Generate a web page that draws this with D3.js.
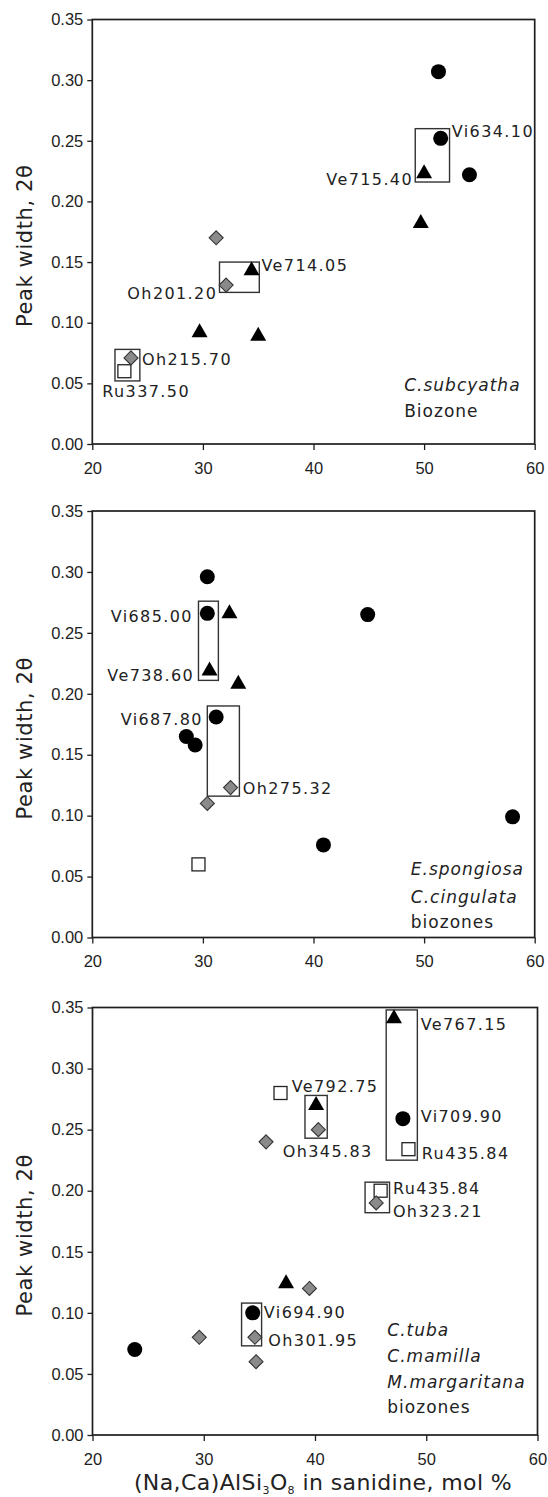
<!DOCTYPE html>
<html>
<head>
<meta charset="utf-8">
<script src="https://cdn.jsdelivr.net/npm/d3@7"></script>
<style>
  html, body { margin: 0; padding: 0; background: #fff; }
  svg { display: block; }
</style>
</head>
<body>
<svg id="chart" width="548" height="1497"></svg>
<script>
// ---------- DATA ----------
const xTicks = [20, 30, 40, 50, 60];
const yTicks = [0, 0.05, 0.10, 0.15, 0.20, 0.25, 0.30, 0.35];

// Panel 1 — C.subcyatha Biozone
const p1Circles   = [[51.3, 0.307], [51.5, 0.252], [54.1, 0.222]];
const p1Triangles = [[50.0, 0.224], [49.7, 0.183], [34.4, 0.144], [29.7, 0.093], [35.0, 0.090]];
const p1Diamonds  = [[31.2, 0.170], [32.1, 0.131], [23.5, 0.071]];
const p1Squares   = [[22.9, 0.060]];
const p1Boxes     = [[49.2, 52.3, 0.216, 0.260], [31.5, 35.1, 0.125, 0.150], [22.05, 24.3, 0.052, 0.078]];
const p1Labels    = [["Vi634.10", 52.5, 0.258, "start"], ["Ve715.40", 49.0, 0.218, "end"],
                     ["Ve714.05", 35.3, 0.147, "start"], ["Oh201.20", 31.3, 0.124, "end"],
                     ["Oh215.70", 24.5, 0.070, "start"], ["Ru337.50", 20.9, 0.043, "start"]];
const p1Zone      = [["C.subcyatha", true, 48.2, 0.049], ["Biozone", false, 48.2, 0.0275]];

// Panel 2 — E.spongiosa / C.cingulata biozones
const p2Circles   = [[30.4, 0.296], [30.4, 0.266], [44.9, 0.265], [31.2, 0.181], [28.5, 0.165],
                     [29.3, 0.158], [40.9, 0.076], [58.0, 0.099]];
const p2Triangles = [[32.4, 0.267], [30.6, 0.220], [33.2, 0.209]];
const p2Diamonds  = [[32.5, 0.123], [30.4, 0.110]];
const p2Squares   = [[29.6, 0.060]];
const p2Boxes     = [[29.6, 31.4, 0.211, 0.276], [30.4, 33.3, 0.116, 0.190]];
const p2Labels    = [["Vi685.00", 29.1, 0.2635, "end"], ["Ve738.60", 29.2, 0.2154, "end"],
                     ["Vi687.80", 30.0, 0.1787, "end"], ["Oh275.32", 33.6, 0.1219, "start"]];
const p2Zone      = [["E.spongiosa", true, 48.8, 0.056], ["C.cingulata", true, 48.8, 0.0336],
                     ["biozones", false, 48.8, 0.0128]];

// Panel 3 — C.tuba / C.mamilla / M.margaritana biozones
const p3Circles   = [[47.9, 0.259], [34.4, 0.100], [23.8, 0.070]];
const p3Triangles = [[47.1, 0.342], [40.1, 0.271], [37.4, 0.125]];
const p3Diamonds  = [[40.3, 0.250], [35.6, 0.240], [45.5, 0.190], [39.5, 0.120], [34.6, 0.080],
                     [29.6, 0.080], [34.7, 0.060]];
const p3Squares   = [[36.9, 0.280], [48.4, 0.234], [45.9, 0.200]];
const p3Boxes     = [[46.4, 49.2, 0.225, 0.348], [39.1, 41.1, 0.243, 0.278],
                     [44.5, 46.7, 0.182, 0.207], [33.4, 35.2, 0.073, 0.108]];
const p3Labels    = [["Ve767.15", 49.5, 0.336, "start"], ["Vi709.90", 49.5, 0.2607, "start"],
                     ["Ru435.84", 49.6, 0.2305, "start"], ["Ve792.75", 37.9, 0.2854, "start"],
                     ["Oh345.83", 37.1, 0.2317, "start"], ["Ru435.84", 47.0, 0.202, "start"],
                     ["Oh323.21", 47.0, 0.1828, "start"], ["Vi694.90", 35.4, 0.100, "start"],
                     ["Oh301.95", 35.8, 0.0773, "start"]];
const p3Zone      = [["C.tuba", true, 46.5, 0.086], ["C.mamilla", true, 46.5, 0.0648],
                     ["M.margaritana", true, 46.5, 0.0437], ["biozones", false, 46.5, 0.0232]];

const yTitle = "Peak width, 2\u03B8";

// ---------- LAYOUT ----------
const panels = [
  { box: { left: 92.3, right: 534.7, top: 19.5, bottom: 444 },
    circles: p1Circles, triangles: p1Triangles, diamonds: p1Diamonds, squares: p1Squares,
    boxes: p1Boxes, labels: p1Labels, zone: p1Zone },
  { box: { left: 92.3, right: 534.7, top: 511, bottom: 937.5 },
    circles: p2Circles, triangles: p2Triangles, diamonds: p2Diamonds, squares: p2Squares,
    boxes: p2Boxes, labels: p2Labels, zone: p2Zone },
  { box: { left: 92.5, right: 537.5, top: 1007.5, bottom: 1435 },
    circles: p3Circles, triangles: p3Triangles, diamonds: p3Diamonds, squares: p3Squares,
    boxes: p3Boxes, labels: p3Labels, zone: p3Zone },
];

const svg = d3.select("#chart");
const textFont = "'DejaVu Sans', sans-serif";
const tickFont = "'Liberation Sans', Arial, sans-serif";
const ink = "#1e1e1e";

panels.forEach((p) => {
  const b = p.box;
  const x = d3.scaleLinear().domain([20, 60]).range([b.left, b.right]);
  const y = d3.scaleLinear().domain([0, 0.35]).range([b.bottom, b.top]);
  const g = svg.append("g");

  // axes
  const yAxis = d3.axisLeft(y).tickValues(yTicks).tickFormat(d3.format(".2f"))
    .tickSizeInner(5).tickSizeOuter(0).tickPadding(4);
  const xAxis = d3.axisBottom(x).tickValues(xTicks).tickFormat(d3.format("d"))
    .tickSizeInner(6).tickSizeOuter(0).tickPadding(12);

  const ya = g.append("g").attr("transform", `translate(${b.left},0)`).call(yAxis);
  const xa = g.append("g").attr("transform", `translate(0,${b.bottom})`).call(xAxis);
  [ya, xa].forEach(a => {
    a.select(".domain").remove();
    a.selectAll(".tick line").attr("stroke", ink).attr("stroke-width", 1.3);
    a.selectAll(".tick text").attr("fill", ink).style("font-family", tickFont).style("font-size", "16.5px");
  });

  // frame
  g.append("rect")
    .attr("x", b.left).attr("y", b.top)
    .attr("width", b.right - b.left).attr("height", b.bottom - b.top)
    .attr("fill", "none").attr("stroke", ink).attr("stroke-width", 1.7);

  // y title
  g.append("text")
    .attr("transform", `translate(32,${(b.top + b.bottom) / 2 + 14}) rotate(-90)`)
    .attr("text-anchor", "middle")
    .style("font-family", textFont).style("font-size", "21px").style("letter-spacing", "0.6px")
    .attr("fill", "#222")
    .text(yTitle);

  // grouping boxes
  g.selectAll(".grp").data(p.boxes).enter().append("rect")
    .attr("x", d => x(d[0])).attr("y", d => y(d[3]))
    .attr("width", d => x(d[1]) - x(d[0])).attr("height", d => y(d[2]) - y(d[3]))
    .attr("fill", "none").attr("stroke", "#333").attr("stroke-width", 1.4);

  // markers
  g.selectAll(".sq").data(p.squares).enter().append("rect")
    .attr("x", d => x(d[0]) - 6.5).attr("y", d => y(d[1]) - 6.5)
    .attr("width", 13).attr("height", 13)
    .attr("fill", "#fff").attr("stroke", "#222").attr("stroke-width", 1.3);

  g.selectAll(".dm").data(p.diamonds).enter().append("path")
    .attr("d", d => {
      const cx = x(d[0]), cy = y(d[1]), r = 7;
      return `M${cx},${cy - r}L${cx + r},${cy}L${cx},${cy + r}L${cx - r},${cy}Z`;
    })
    .attr("fill", "#8a8a8a").attr("stroke", "#333").attr("stroke-width", 1.1);

  g.selectAll(".tr").data(p.triangles).enter().append("path")
    .attr("d", d => {
      const cx = x(d[0]), cy = y(d[1]);
      return `M${cx},${cy - 8}L${cx + 8},${cy + 6}L${cx - 8},${cy + 6}Z`;
    })
    .attr("fill", "#000");

  g.selectAll(".ci").data(p.circles).enter().append("circle")
    .attr("cx", d => x(d[0])).attr("cy", d => y(d[1])).attr("r", 7.5)
    .attr("fill", "#000");

  // point labels
  g.selectAll(".lb").data(p.labels).enter().append("text")
    .attr("x", d => x(d[1])).attr("y", d => y(d[2]))
    .attr("text-anchor", d => d[3])
    .attr("dominant-baseline", "central")
    .style("font-family", textFont).style("font-size", "16px").style("letter-spacing", "1.4px")
    .attr("fill", "#222")
    .text(d => d[0]);

  // zone annotations
  g.selectAll(".zn").data(p.zone).enter().append("text")
    .attr("x", d => x(d[2])).attr("y", d => y(d[3]))
    .attr("dominant-baseline", "central")
    .style("font-family", textFont).style("font-size", "17px").style("letter-spacing", "1px")
    .style("font-style", d => d[1] ? "italic" : "normal")
    .attr("fill", "#222")
    .text(d => d[0]);
});

// x title
const xt = svg.append("text")
  .attr("x", 323).attr("y", 1490)
  .attr("text-anchor", "middle")
  .style("font-family", textFont).style("font-size", "22px").style("letter-spacing", "0.4px")
  .attr("fill", "#222");
xt.append("tspan").text("(Na,Ca)AlSi");
xt.append("tspan").attr("dy", 4).style("font-size", "11px").text("3");
xt.append("tspan").attr("dy", -4).text("O");
xt.append("tspan").attr("dy", 4).style("font-size", "11px").text("8");
xt.append("tspan").attr("dy", -4).text(" in sanidine, mol %");
</script>
</body>
</html>
